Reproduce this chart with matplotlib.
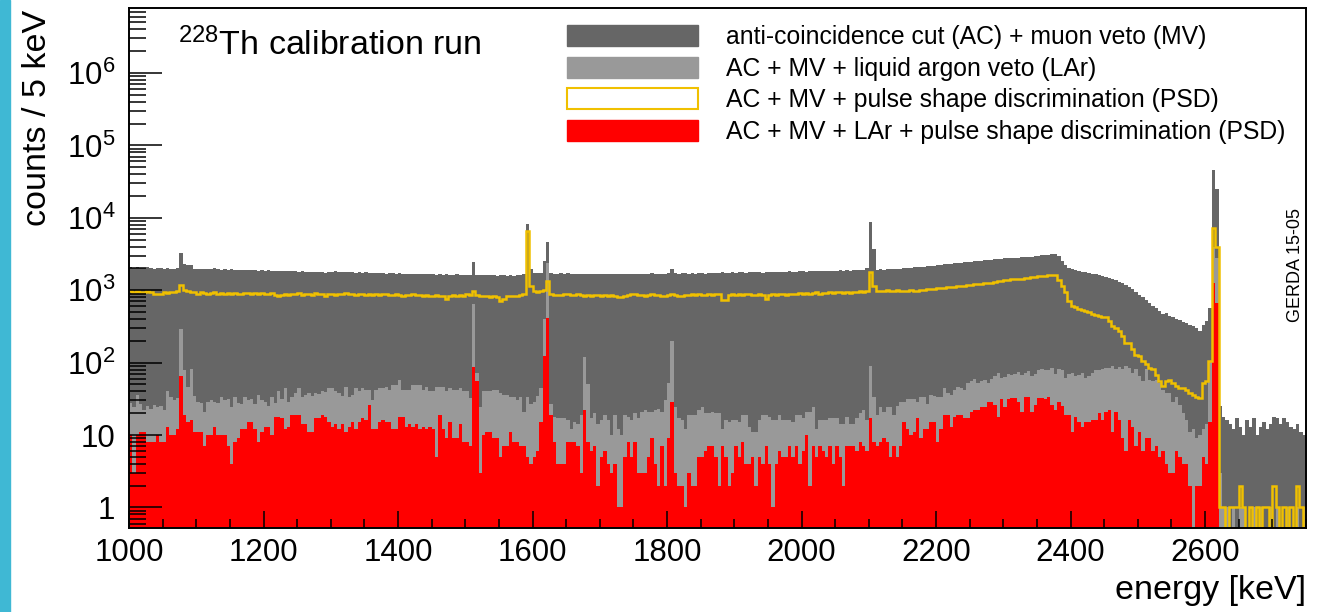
import numpy as np
import matplotlib
matplotlib.use("Agg")
import matplotlib.pyplot as plt
from matplotlib.patches import Patch, Rectangle
from matplotlib.ticker import FixedLocator, MultipleLocator, LogLocator, NullFormatter

plt.rcParams['font.family'] = 'Liberation Sans'
plt.rcParams['mathtext.fontset'] = 'custom'
plt.rcParams['mathtext.rm'] = 'Liberation Sans'

# 5 keV bins, 1000 - 2750 keV
bin_edges = np.arange(1000, 2755, 5)

# anti-coincidence + muon veto
ac_mv = [
    2080, 2050, 2090, 2040, 2010, 2060, 2030, 1990, 2020, 2000,
    1970, 2010, 1960, 1990, 2000, 3300, 2270, 2200, 2210, 1980,
    1960, 1990, 1950, 1970, 1940, 2010, 1960, 1930, 1950, 1920,
    1940, 1900, 1930, 1910, 1890, 1920, 1880, 1900, 1870, 1890,
    1860, 1880, 1850, 1870, 1840, 1860, 1830, 1850, 1820, 1840,
    1810, 1830, 1800, 1790, 1810, 1780, 1760, 1790, 1750, 1790,
    1810, 1830, 1780, 1770, 1790, 1760, 1780, 1750, 1770, 1740,
    1760, 1730, 1750, 1720, 1740, 1720, 1700, 1730, 1710, 1690,
    1720, 1700, 1680, 1700, 1670, 1690, 1660, 1680, 1650, 1670,
    1660, 1640, 1660, 1630, 1650, 1640, 1620, 1650, 1630, 1610,
    1640, 1620, 2420, 1630, 1610, 1640, 1600, 1620, 1610, 1590,
    1620, 1600, 1580, 1610, 1590, 1600, 1640, 1680, 8130, 1950,
    1740, 1730, 1750, 2500, 4600, 1740, 1700, 1680, 1720, 1690,
    1710, 1670, 1700, 1680, 1660, 1700, 1680, 1650, 1670, 1690,
    1660, 1680, 1650, 1670, 1690, 1660, 1680, 1700, 1670, 1690,
    1660, 1680, 1700, 1670, 1690, 1710, 1680, 1700, 1670, 1690,
    1710, 1980, 1720, 1690, 1710, 1730, 1700, 1720, 1690, 1710,
    1730, 1700, 1720, 1740, 1710, 1740, 1760, 1730, 1750, 1770,
    1740, 1760, 1780, 1750, 1770, 1790, 1760, 1780, 1750, 1770,
    1790, 1770, 1800, 1780, 1810, 1790, 1820, 1800, 1790, 1820,
    1840, 1810, 1830, 1850, 1820, 1840, 1860, 1830, 1850, 1870,
    1850, 1880, 1860, 1890, 1870, 1900, 1880, 1910, 1890, 2000,
    8860, 3700, 1930, 1950, 1920, 1960, 1940, 1970, 1990, 1960,
    2000, 2020, 2050, 2070, 2090, 2100, 2120, 2150, 2170, 2190,
    2220, 2250, 2280, 2300, 2330, 2350, 2380, 2400, 2430, 2450,
    2480, 2510, 2540, 2560, 2590, 2610, 2640, 2660, 2690, 2720,
    2750, 2780, 2800, 2810, 2830, 2840, 2860, 2870, 2900, 2940,
    2980, 3020, 3060, 3100, 3150, 3150, 3000, 2550, 2250, 2050,
    1980, 1930, 1860, 1800, 1760, 1720, 1690, 1650, 1610, 1560,
    1520, 1470, 1430, 1380, 1290, 1240, 1165, 1100, 1026, 950,
    848, 805, 730, 660, 603, 560, 514, 473, 478, 438,
    425, 403, 385, 362, 347, 336, 319, 303, 272, 336,
    374, 573, 45800, 25300, 25, 18, 16, 14, 12, 17,
    13, 10, 16, 13, 17, 10, 13, 15, 12, 14,
    18, 17, 14, 17, 15, 13, 12, 14, 11, 10,
]

# AC + MV + liquid argon veto
ac_mv_lar = [
    28, 24, 36, 27, 22, 25, 23, 26, 24, 25,
    22, 40, 34, 30, 32, 287, 80, 46, 82, 35,
    29, 28, 21, 29, 30, 29, 28, 33, 30, 31,
    24, 34, 28, 27, 34, 30, 31, 27, 36, 30,
    29, 25, 33, 28, 40, 31, 45, 29, 34, 38,
    45, 33, 36, 38, 35, 38, 37, 40, 39, 44,
    44, 40, 38, 35, 46, 34, 36, 44, 40, 44,
    42, 42, 30, 42, 44, 44, 46, 42, 49, 49,
    58, 42, 42, 42, 49, 49, 49, 42, 46, 40,
    40, 46, 46, 46, 40, 44, 42, 42, 44, 40,
    40, 32, 636, 72, 24, 40, 40, 40, 42, 42,
    38, 36, 36, 34, 34, 30, 34, 21, 34, 27,
    29, 35, 45, 400, 2400, 27, 18, 17, 17, 17,
    16, 12, 15, 14, 19, 119, 50, 17, 20, 14,
    16, 19, 16, 10, 19, 12, 10, 19, 18, 16,
    20, 17, 21, 22, 21, 21, 22, 23, 21, 30,
    52, 202, 24, 17, 16, 12, 19, 19, 19, 22,
    24, 20, 20, 21, 20, 20, 12, 16, 15, 16,
    16, 15, 19, 19, 13, 11, 11, 16, 19, 19,
    18, 16, 16, 19, 16, 16, 16, 15, 19, 19,
    17, 21, 21, 24, 12, 16, 16, 16, 17, 17,
    17, 14, 14, 18, 14, 14, 17, 20, 22, 16,
    89, 33, 19, 24, 21, 24, 24, 19, 25, 29,
    29, 31, 31, 31, 29, 33, 34, 27, 36, 35,
    33, 34, 44, 38, 36, 42, 46, 44, 42, 52,
    56, 60, 53, 56, 58, 53, 60, 66, 72, 62,
    64, 69, 67, 70, 74, 67, 72, 76, 66, 70,
    78, 81, 79, 80, 85, 69, 82, 78, 62, 70,
    72, 65, 68, 72, 62, 66, 72, 78, 80, 82,
    85, 85, 89, 81, 87, 81, 90, 85, 72, 81,
    65, 55, 81, 58, 55, 58, 52, 42, 38, 38,
    29, 34, 26, 20, 16, 11, 12, 9, 10, 12,
    14, 105, 4000, 2800, 3, 1, 1, 0, 1, 0,
    1, 1, 0, 0, 1, 0, 1, 0, 0, 1,
    0, 1, 0, 0, 1, 0, 0, 1, 0, 1,
]

# AC + MV + pulse shape discrimination
ac_mv_psd = [
    960, 950, 965, 955, 940, 960, 950, 900, 880, 890,
    930, 920, 945, 935, 960, 1170, 1000, 960, 940, 955,
    900, 930, 915, 890, 920, 940, 900, 920, 880, 910,
    895, 920, 900, 880, 905, 920, 890, 910, 895, 915,
    900, 880, 905, 860, 845, 870, 890, 870, 895, 880,
    905, 870, 890, 900, 870, 905, 890, 880, 840, 880,
    900, 870, 895, 880, 905, 875, 890, 860, 880, 900,
    870, 890, 865, 885, 860, 880, 900, 870, 855, 880,
    865, 845, 870, 855, 880, 850, 865, 840, 860, 845,
    830, 855, 840, 820, 760, 830, 850, 835, 860, 840,
    880, 870, 960, 850, 830, 820, 835, 815, 830, 810,
    720, 750, 820, 840, 825, 845, 850, 880, 6560, 1150,
    960, 950, 980, 1000, 1350, 880, 860, 870, 850, 880,
    900, 870, 860, 880, 850, 820, 860, 840, 860, 850,
    830, 870, 840, 860, 830, 800, 810, 840, 860, 900,
    880, 850, 870, 840, 860, 880, 850, 870, 830, 840,
    860, 900, 850, 820, 840, 870, 850, 880, 860, 890,
    870, 850, 880, 870, 890, 880, 730, 740, 870, 880,
    870, 890, 870, 880, 900, 870, 860, 880, 850, 750,
    860, 880, 870, 890, 880, 870, 900, 880, 890, 910,
    900, 920, 890, 910, 930, 900, 920, 910, 940, 920,
    950, 930, 910, 940, 920, 950, 930, 960, 940, 970,
    1800, 1150, 990, 960, 980, 1000, 970, 990, 1010, 980,
    960, 990, 1000, 980, 990, 1000, 1020, 1030, 1045, 1040,
    1060, 1080, 1075, 1095, 1110, 1105, 1130, 1150, 1140, 1170,
    1190, 1210, 1200, 1230, 1250, 1270, 1260, 1290, 1320, 1340,
    1370, 1390, 1410, 1430, 1420, 1450, 1480, 1470, 1510, 1530,
    1560, 1550, 1580, 1620, 1640, 1600, 1400, 1150, 950, 720,
    600, 580, 550, 540, 520, 500, 470, 460, 445, 430,
    420, 380, 320, 300, 272, 232, 188, 185, 152, 129,
    123, 105, 97, 85, 81, 68, 55, 48, 55, 58,
    52, 47, 45, 45, 42, 38, 36, 34, 32, 52,
    55, 105, 7310, 4000, 1, 1, 0, 1, 1, 1,
    2, 1, 0, 1, 0, 1, 0, 1, 1, 0,
    2, 1, 0, 1, 0, 1, 0, 2, 1, 0,
]

# AC + MV + LAr + PSD
ac_mv_lar_psd = [
    10, 3, 10, 11, 11, 8, 8, 8, 10, 8,
    8, 13, 10, 10, 12, 65, 19, 15, 16, 11,
    11, 11, 7, 10, 10, 13, 10, 10, 10, 7,
    4, 8, 9, 12, 12, 15, 15, 12, 8, 11,
    13, 13, 10, 18, 18, 17, 12, 13, 19, 19,
    19, 14, 14, 11, 11, 17, 17, 19, 18, 15,
    13, 14, 12, 14, 11, 13, 15, 12, 15, 17,
    16, 26, 12, 12, 15, 16, 15, 15, 12, 12,
    18, 18, 13, 14, 13, 14, 12, 13, 12, 13,
    12, 5, 19, 12, 9, 15, 9, 9, 14, 8,
    8, 7, 86, 55, 3, 10, 11, 11, 9, 9,
    5, 7, 7, 11, 8, 8, 7, 7, 5, 4,
    5, 6, 15, 122, 417, 19, 8, 4, 4, 4,
    8, 8, 8, 7, 3, 22, 8, 6, 7, 2,
    5, 6, 4, 3, 4, 1, 1, 5, 8, 5,
    8, 3, 3, 3, 5, 9, 4, 2, 7, 2,
    9, 29, 3, 2, 2, 1, 3, 2, 2, 5,
    5, 6, 7, 7, 5, 2, 7, 5, 2, 3,
    7, 5, 8, 4, 4, 5, 2, 5, 4, 7,
    4, 1, 4, 6, 5, 5, 7, 5, 7, 4,
    6, 10, 2, 7, 5, 7, 6, 5, 7, 4,
    7, 5, 2, 7, 7, 7, 6, 8, 7, 6,
    17, 8, 7, 8, 9, 8, 5, 7, 5, 7,
    15, 12, 10, 11, 17, 9, 12, 12, 15, 15,
    8, 12, 19, 19, 13, 18, 19, 19, 17, 17,
    21, 22, 22, 24, 24, 29, 29, 26, 18, 31,
    24, 31, 32, 32, 29, 21, 34, 34, 21, 26,
    32, 32, 31, 33, 26, 22, 29, 25, 19, 19,
    11, 18, 15, 13, 15, 15, 16, 16, 20, 16,
    21, 22, 11, 21, 16, 9, 6, 16, 13, 7,
    11, 6, 9, 9, 6, 7, 5, 6, 4, 3,
    3, 6, 5, 4, 4, 2, 0, 2, 2, 5,
    4, 15, 1270, 671, 0, 0, 0, 0, 0, 0,
    0, 0, 0, 0, 0, 0, 0, 0, 0, 0,
    0, 0, 0, 0, 0, 0, 0, 0, 0, 0,
]

labels = [
    "anti-coincidence cut (AC) + muon veto (MV)",
    "AC + MV + liquid argon veto (LAr)",
    "AC + MV + pulse shape discrimination (PSD)",
    "AC + MV + LAr + pulse shape discrimination (PSD)",
]
y_ticks = [1, 10, 100, 1e3, 1e4, 1e5, 1e6]
y_ticklabels = ['1', '10', r'$\mathregular{10^{2}}$', r'$\mathregular{10^{3}}$',
                r'$\mathregular{10^{4}}$', r'$\mathregular{10^{5}}$', r'$\mathregular{10^{6}}$']

dark = '#666666'
light = '#999999'
gold = '#f0c000'
red = '#ff0000'
floor = 1e-2   # stand-in for empty bins on the log axis

fig = plt.figure(figsize=(13.22, 6.12), dpi=100)
ax = fig.add_axes([129/1322, 1-528/612, (1306-129)/1322, (528-8)/612])
fig.patches.append(Rectangle((0, 0), 10/1322, 1, transform=fig.transFigure,
                             color='#3fb8d4', zorder=-1))

ax.set_yscale('log')
ax.stairs(np.clip(ac_mv, floor, None), bin_edges, fill=True, baseline=floor, color=dark, lw=0)
ax.stairs(np.clip(ac_mv_lar, floor, None), bin_edges, fill=True, baseline=floor, color=light, lw=0)
ax.stairs(np.clip(ac_mv_lar_psd, floor, None), bin_edges, fill=True, baseline=floor, color=red, lw=0)
ax.stairs(np.clip(ac_mv_psd, floor, None), bin_edges, baseline=None, color=gold, lw=1.8)

ax.set_xlim(1000, 2750)
ax.set_ylim(0.52, 7.9e6)

ax.xaxis.set_major_locator(MultipleLocator(200))
ax.xaxis.set_minor_locator(MultipleLocator(50))
ax.set_xticks(np.arange(1000, 2700, 200))
ax.yaxis.set_major_locator(FixedLocator(y_ticks))
ax.set_yticklabels(y_ticklabels)
ax.yaxis.set_minor_locator(LogLocator(base=10, subs=np.arange(2, 10)))
ax.yaxis.set_minor_formatter(NullFormatter())

ax.tick_params(axis='x', which='major', direction='in', length=12, width=1.1, labelsize=22.5, pad=7,
               top=False)
ax.tick_params(axis='x', which='minor', direction='in', length=6.5, width=1.1, top=False)
ax.tick_params(axis='y', which='major', direction='in', length=24, width=1.1, labelsize=22.5, pad=10,
               right=False)
ax.tick_params(axis='y', which='minor', direction='in', length=12, width=1.1, right=False)
for s in ax.spines.values():
    s.set_linewidth(1.4)

fig.text(38/1322, 1-10/612, 'counts / 5 keV', rotation=90, ha='center', va='top', fontsize=24.5)
fig.text(1306/1322, 1-590/612, 'energy [keV]', ha='right', va='center', fontsize=24.5)

ax.text(0.0416, 0.9096, r'$\mathregular{^{228}}$Th calibration run', transform=ax.transAxes,
        fontsize=24.5, va='baseline', ha='left')
ax.text(0.9907, 0.506, 'GERDA 15-05', transform=ax.transAxes, rotation=90,
        ha='center', va='center', fontsize=13)

handles = [Patch(facecolor=dark, edgecolor=dark),
           Patch(facecolor=light, edgecolor=light),
           Patch(facecolor='white', edgecolor=gold, lw=1.5),
           Patch(facecolor=red, edgecolor=red)]
ax.legend(handles, labels, loc='upper left', bbox_to_anchor=(567/1322, 1-25/612),
          bbox_transform=fig.transFigure, frameon=False, fontsize=17.8,
          handlelength=5.3, handleheight=0.95, handletextpad=1.15,
          labelspacing=0.3, borderpad=0, borderaxespad=0)

fig.savefig('out.png', dpi=100)
